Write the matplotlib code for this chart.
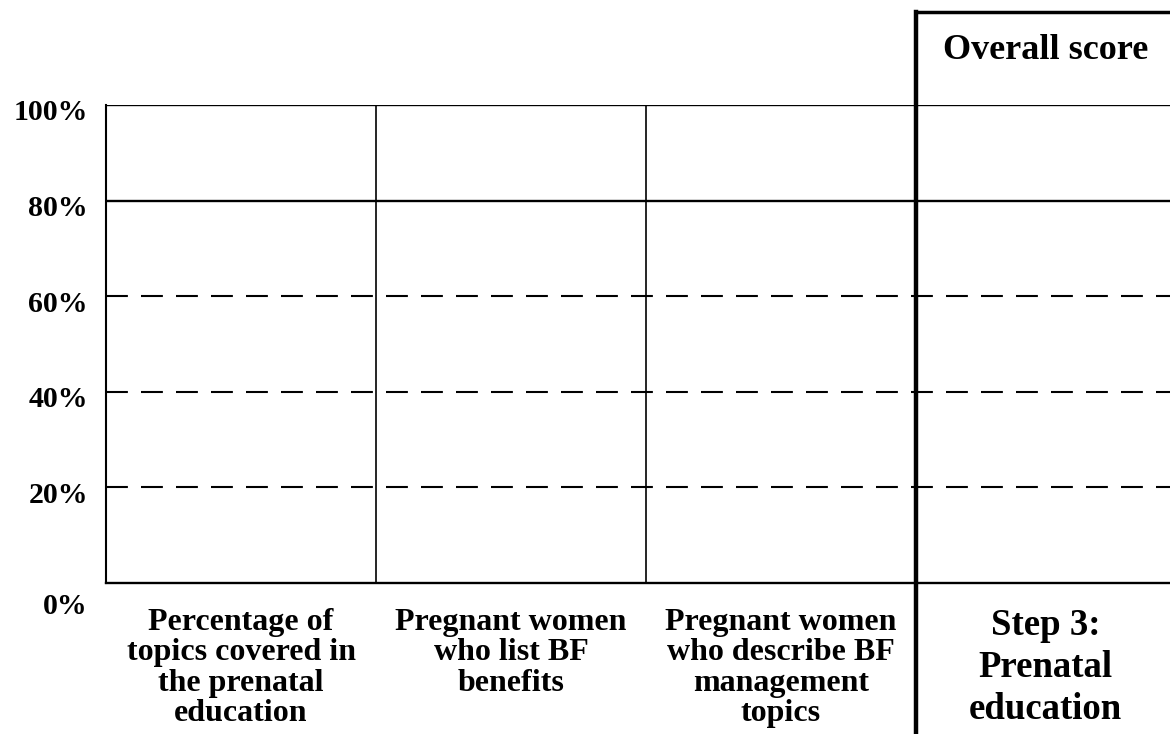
import matplotlib.pyplot as plt
import matplotlib.transforms as mtransforms

plt.rcParams['font.family'] = ['Liberation Serif', 'DejaVu Serif']
plt.rcParams['font.weight'] = 'bold'

# y axis levels (percent)
y_ticks = [0, 20, 40, 60, 80, 100]
y_tick_labels = ['0%', '20%', '40%', '60%', '80%', '100%']
solid_levels = [80, 100]
dashed_levels = [20, 40, 60]

# indicator columns
categories = [
    'Percentage of\ntopics covered in\nthe prenatal\neducation',
    'Pregnant women\nwho list BF\nbenefits',
    'Pregnant women\nwho describe BF\nmanagement\ntopics',
    'Step 3:\nPrenatal\neducation',
]
cat_pos = [0.5, 1.5, 2.5, 3.48]
col_dividers = [1, 2]
overall_col = 3
overall_title = 'Overall score'

fig = plt.figure(figsize=(11.7, 7.34), dpi=100)
ax = fig.add_axes([106 / 1170, 151 / 734, 1064 / 1170, 478 / 734])
ax.set_xlim(0, 1064 / 270)
ax.set_ylim(0, 100)

for lv in solid_levels:
    ax.axhline(lv, color='black', lw=1.7)
for lv in dashed_levels:
    ax.axhline(lv, color='black', lw=1.5, linestyle=(0, (10.5, 6.3)))
for x in col_dividers:
    ax.axvline(x, color='black', lw=1.2)

# thick box around the overall score column
xmax = ax.get_xlim()[1]
ax.axvline(overall_col, ymin=-0.4, ymax=1.195, color='black', lw=3.2, clip_on=False)
ax.axhline(119.5, xmin=overall_col / xmax, xmax=1, color='black', lw=2.5, clip_on=False)
ax.text(3.48, 111.5, overall_title, ha='center', va='center', fontsize=26,
        fontweight='bold', clip_on=False)

for s in ['top', 'right']:
    ax.spines[s].set_visible(False)
ax.spines['left'].set_linewidth(1.5)
ax.spines['bottom'].set_linewidth(1.7)

ax.set_yticks(y_ticks)
ax.set_yticklabels(y_tick_labels, fontsize=21.5, fontweight='bold')
ax.tick_params(axis='y', length=0, pad=13)
for lab, v in zip(ax.get_yticklabels(), y_ticks):
    dy = -20 if v == 0 else -5
    off = mtransforms.ScaledTranslation(0, dy / 100, fig.dpi_scale_trans)
    lab.set_transform(lab.get_transform() + off)

ax.set_xticks(cat_pos)
ax.set_xticklabels(categories, fontsize=23, fontweight='bold', linespacing=1.06)
ax.tick_params(axis='x', length=0, pad=18)
last = ax.get_xticklabels()[-1]
last.set_fontsize(26.5)
last.set_linespacing(1.26)

fig.savefig('out.png', dpi=100)
